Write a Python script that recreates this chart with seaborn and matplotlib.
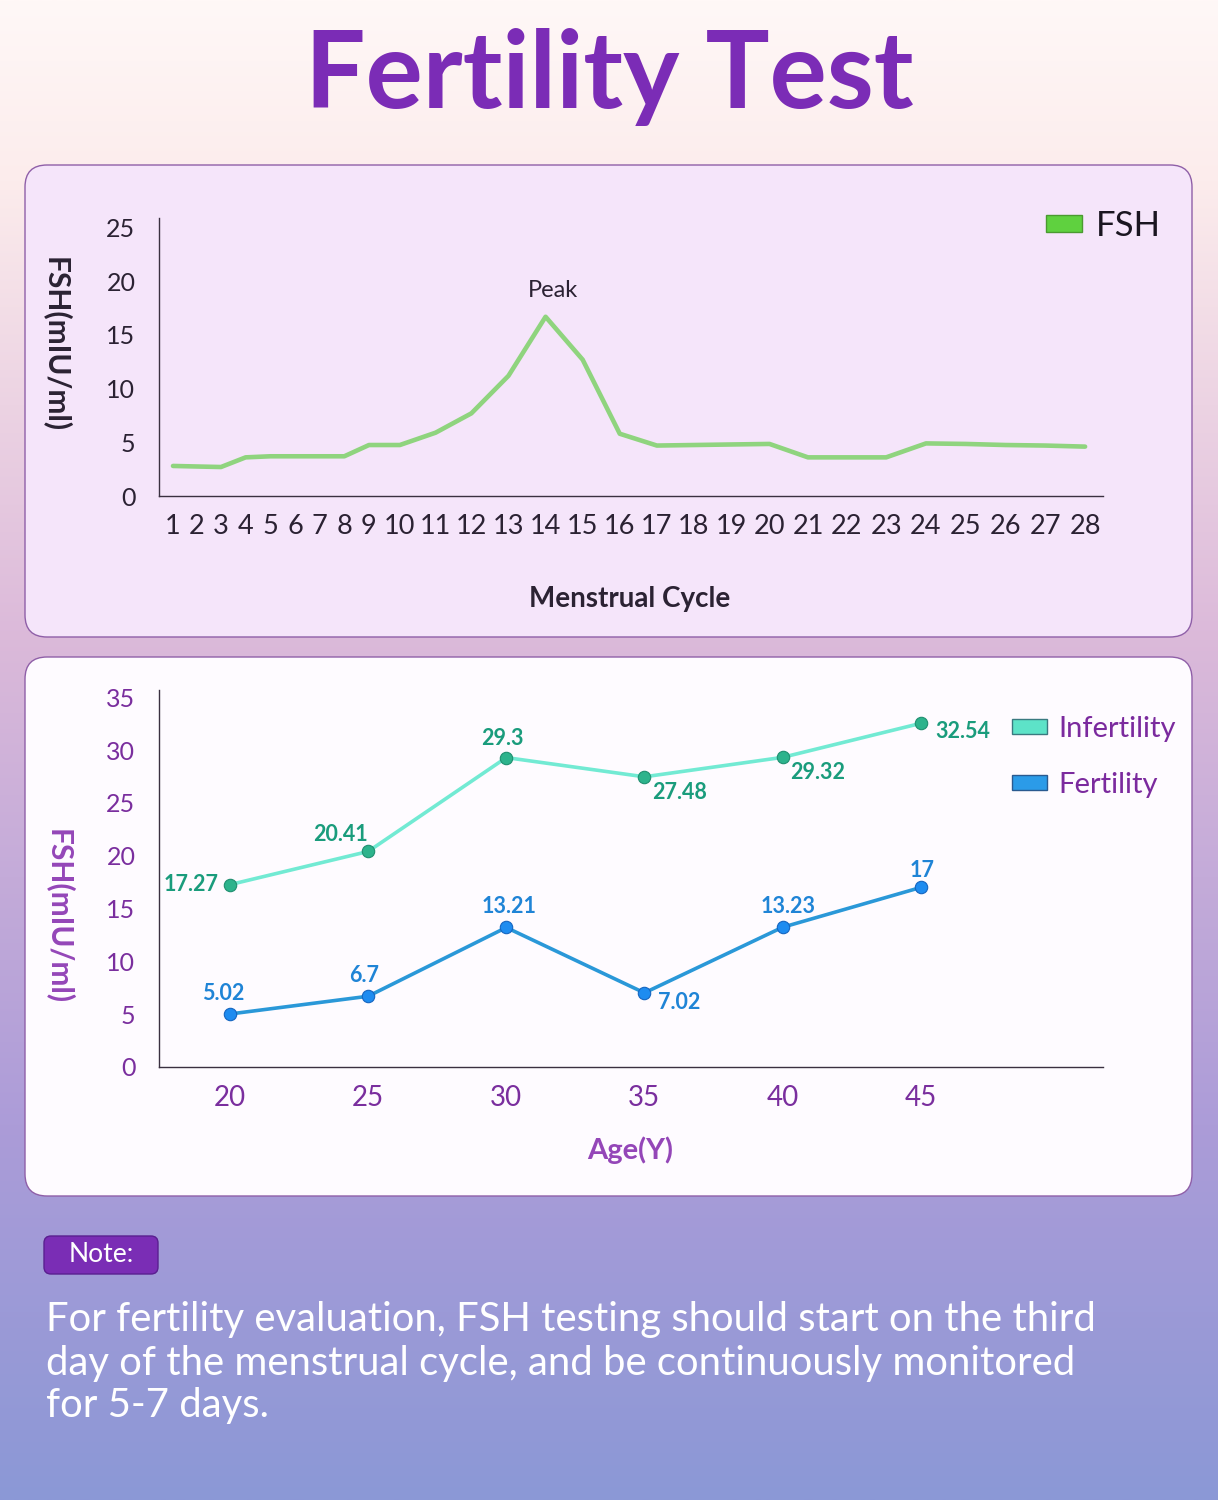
import numpy as np
import pandas as pd
import matplotlib
matplotlib.use("Agg")
import matplotlib.pyplot as plt
from matplotlib.patches import FancyBboxPatch, Patch
import seaborn as sns

# ---------------- data ----------------
title_text = "Fertility Test"

cycle_days = list(range(1, 29))
fsh_values = [2.8, 2.75, 2.7, 3.6, 3.7, 3.7, 3.7, 3.7, 4.75, 4.75, 5.9, 7.7, 11.2, 16.7,
              12.7, 5.8, 4.7, 4.75, 4.8, 4.85, 3.6, 3.6, 3.6, 4.9, 4.85, 4.75, 4.7, 4.6]
top_yticks = [0, 5, 10, 15, 20, 25]

ages = [20, 25, 30, 35, 40, 45]
infertility = [17.27, 20.41, 29.3, 27.48, 29.32, 32.54]
fertility = [5.02, 6.7, 13.21, 7.02, 13.23, 17]
bottom_yticks = [0, 5, 10, 15, 20, 25, 30, 35]

note_title = "Note:"
note_lines = ["For fertility evaluation, FSH testing should start on the third",
              "day of the menstrual cycle, and be continuously monitored",
              "for 5-7 days."]

# ---------------- style ----------------
sns.set_style("white")
FONT = ["Lato", "DejaVu Sans"]
plt.rcParams["font.family"] = FONT

W, H = 1218, 1500
fig = plt.figure(figsize=(W / 100, H / 100), dpi=100)

# background (pixel coordinates)
bg = fig.add_axes([0, 0, 1, 1], zorder=-10)
bg.set_xlim(0, W)
bg.set_ylim(H, 0)
bg.axis("off")
stops = np.array([0.0, 0.12, 0.42, 0.75, 1.0])
cols = np.array([[255, 248, 247], [252, 236, 236], [220, 186, 218],
                 [172, 156, 216], [139, 152, 214]]) / 255.0
yy = np.linspace(0, 1, 600)
grad = np.stack([np.interp(yy, stops, cols[:, i]) for i in range(3)], axis=-1)[:, None, :]
bg.imshow(grad, extent=[0, W, H, 0], aspect="auto", zorder=0)

def panel(x0, y0, x1, y1, face):
    p = FancyBboxPatch((x0, y0), x1 - x0, y1 - y0,
                       boxstyle="round,pad=0,rounding_size=22",
                       facecolor=face, edgecolor="#8f5fa8", linewidth=1.0, zorder=1)
    bg.add_patch(p)

panel(25, 165, 1192, 637, "#f5e5fa")
panel(25, 657, 1192, 1196, "#fefbff")

# title
fig.text(0.5, 1 - 108 / H, title_text, ha="center", va="baseline",
         fontsize=77, fontweight="bold", color="#7b2cb6")

# ---------------- top chart ----------------
# the day labels are packed by their text width ('1' is a narrower digit)
def _label_positions(days):
    widths = np.array([sum(12.5 if c == "1" else 15.2 for c in str(v)) for v in days])
    gaps = 9.6 + (widths[:-1] + widths[1:]) / 2
    return np.concatenate([[0.0], np.cumsum(gaps)])

kx = np.array(cycle_days, float)
kp = _label_positions(cycle_days)

def fwd(x):
    x = np.asarray(x, float)
    p = np.interp(x, kx, kp)
    p = np.where(x < kx[0], kp[0] + (x - kx[0]) * (kp[1] - kp[0]), p)
    p = np.where(x > kx[-1], kp[-1] + (x - kx[-1]) * (kp[-1] - kp[-2]), p)
    return p

def inv(p):
    p = np.asarray(p, float)
    x = np.interp(p, kp, kx)
    x = np.where(p < kp[0], kx[0] + (p - kp[0]) / (kp[1] - kp[0]), x)
    x = np.where(p > kp[-1], kx[-1] + (p - kp[-1]) / (kp[-1] - kp[-2]), x)
    return x

ax1 = fig.add_axes([159 / W, 1 - 496 / H, (1103 - 159) / W, (496 - 218) / H])
ax1.set_facecolor("none")
df1 = pd.DataFrame({"day": cycle_days, "FSH": fsh_values})
sns.lineplot(data=df1, x="day", y="FSH", ax=ax1, color="#8fd47e", linewidth=3.3)
ax1.set_xscale("function", functions=(fwd, inv))
ax1.set_xlim(0.40, 28.45)
ax1.set_ylim(0, 25.9)
ax1.set_xticks(cycle_days)
ax1.set_xticklabels([str(d) for d in cycle_days])
ax1.xaxis.set_minor_locator(matplotlib.ticker.NullLocator())
ax1.set_yticks(top_yticks)
ax1.set_yticklabels([str(v) for v in top_yticks])
ax1.tick_params(axis="x", length=0, pad=13, labelsize=19.5, colors="#2b2233")
ax1.tick_params(axis="y", length=0, pad=17, labelsize=18, colors="#2b2233")
for s in ["top", "right"]:
    ax1.spines[s].set_visible(False)
for s in ["left", "bottom"]:
    ax1.spines[s].set_color("#3a3040")
    ax1.spines[s].set_linewidth(1.0)
ax1.set_xlabel("Menstrual Cycle", fontsize=20, fontweight="bold", color="#2b2233")
ax1.xaxis.set_label_coords(0.499, -0.325)
ax1.set_ylabel("FSH(mIU/ml)", fontsize=21.5, fontweight="bold", color="#2b2233", rotation=-90)
ax1.yaxis.set_label_coords(-0.124, 0.543)
pk = int(np.argmax(fsh_values))
ax1.annotate("Peak", xy=(cycle_days[pk], fsh_values[pk]), xytext=(5, 11),
             textcoords="offset points", ha="center", va="bottom",
             fontsize=17, color="#2b2233")
ax1.legend(handles=[Patch(facecolor="#5fd13f", edgecolor="#4a9a30", label="FSH")],
           loc="upper left", bbox_to_anchor=(1046 / W, 1 - 210 / H),
           bbox_transform=fig.transFigure, frameon=False, fontsize=25,
           handlelength=1.05, handleheight=0.35, handletextpad=0.4,
           borderpad=0, borderaxespad=0, labelcolor="#1a1520")

# ---------------- bottom chart ----------------
ax2 = fig.add_axes([159 / W, 1 - 1067 / H, (1103 - 159) / W, (1067 - 690) / H])
ax2.set_facecolor("none")
df2 = pd.DataFrame({"age": ages * 2,
                    "fsh": infertility + fertility,
                    "group": ["Infertility"] * len(ages) + ["Fertility"] * len(ages)})
line_pal = {"Infertility": "#72ead3", "Fertility": "#2a98d8"}
mark_pal = {"Infertility": "#2db38c", "Fertility": "#1e8cf0"}
mark_edge = {"Infertility": "#1f8f70", "Fertility": "#1565c0"}
text_col = {"Infertility": "#1a9c7c", "Fertility": "#1f84d6"}
sns.lineplot(data=df2, x="age", y="fsh", hue="group", palette=line_pal,
             linewidth=2.6, ax=ax2, legend=False)
for g in ["Infertility", "Fertility"]:
    sub = df2[df2.group == g]
    sns.scatterplot(data=sub, x="age", y="fsh", color=mark_pal[g], s=80,
                    edgecolor=mark_edge[g], linewidth=0.8, ax=ax2, legend=False, zorder=3)

inf_off = [(-8, 0, "right", "center"), (-20, 12, "center", "center"),
           (-3, 14, "center", "center"), (25, -11, "center", "center"),
           (25, -11, "center", "center"), (30, -6, "center", "center")]
fer_off = [(-5, 15, "center", "center"), (-3, 15, "center", "center"),
           (2, 15, "center", "center"), (25, -7, "center", "center"),
           (4, 15, "center", "center"), (1, 12, "center", "center")]
def fmt(v):
    return ("%g" % v)
for xs, ys, offs, g in [(ages, infertility, inf_off, "Infertility"),
                        (ages, fertility, fer_off, "Fertility")]:
    for x, y, (dx, dy, ha, va) in zip(xs, ys, offs):
        ax2.annotate(fmt(y), xy=(x, y), xytext=(dx, dy), textcoords="offset points",
                     ha=ha, va=va, fontsize=15.5, fontweight="bold", color=text_col[g])

ax2.set_xlim(17.43, 51.6)
ax2.set_ylim(0, 35.7)
ax2.set_xticks(ages)
ax2.set_xticklabels([str(a) for a in ages])
ax2.set_yticks(bottom_yticks)
ax2.set_yticklabels([str(v) for v in bottom_yticks])
ax2.tick_params(axis="x", length=0, pad=13, labelsize=20, colors="#7a2e9e")
ax2.tick_params(axis="y", length=0, pad=17, labelsize=18, colors="#7a2e9e")
for s in ["top", "right"]:
    ax2.spines[s].set_visible(False)
for s in ["left", "bottom"]:
    ax2.spines[s].set_color("#3a3040")
    ax2.spines[s].set_linewidth(1.0)
ax2.set_xlabel("Age(Y)", fontsize=21, fontweight="bold", color="#9446b8")
ax2.xaxis.set_label_coords(0.499, -0.183)
ax2.set_ylabel("FSH(mIU/ml)", fontsize=21.5, fontweight="bold", color="#9446b8", rotation=-90)
ax2.yaxis.set_label_coords(-0.121, 0.398)
ax2.legend(handles=[Patch(facecolor="#5de3c8", edgecolor="#3a7a80", label="Infertility"),
                    Patch(facecolor="#2b9be8", edgecolor="#2a5a90", label="Fertility")],
           loc="upper left", bbox_to_anchor=(1012 / W, 1 - 716 / H),
           bbox_transform=fig.transFigure, frameon=False, fontsize=21,
           handlelength=1.2, handleheight=0.45, handletextpad=0.4, labelspacing=1.02,
           borderpad=0, borderaxespad=0, labelcolor="#7b2a9e")

# ---------------- note ----------------
bg.add_patch(FancyBboxPatch((44, 1236), 114, 38, boxstyle="round,pad=0,rounding_size=7",
                            facecolor="#7a2db5", edgecolor="#5a1f90", linewidth=1.0, zorder=2))
bg.text(101, 1255, note_title, ha="center", va="center", fontsize=19,
        color="white", zorder=3)
for i, line in enumerate(note_lines):
    bg.text(46, 1320 + 43 * i, line, ha="left", va="center", fontsize=28.8,
            color="white", zorder=3)

fig.savefig("out.png", dpi=100)
